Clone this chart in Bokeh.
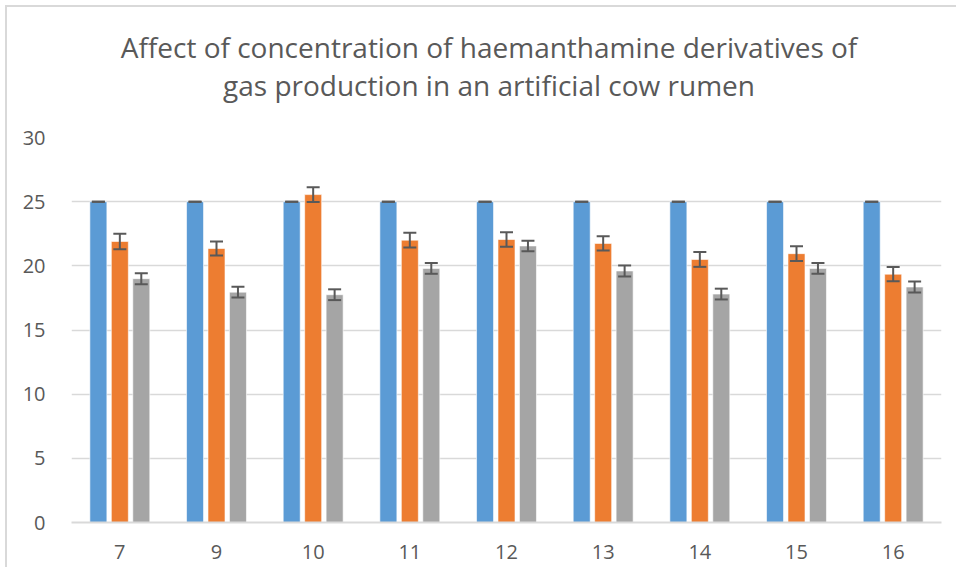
from bokeh.plotting import figure
from bokeh.models import ColumnDataSource, Whisker, TeeHead, Div, FactorRange
from bokeh.layouts import column
from bokeh.transform import dodge
from bokeh.embed import file_html
from bokeh.resources import INLINE

categories = ["7", "9", "10", "11", "12", "13", "14", "15", "16"]
series1 = [25, 25, 25, 25, 25, 25, 25, 25, 25]
series1_err = [0, 0, 0, 0, 0, 0, 0, 0, 0]
series2 = [21.9, 21.35, 25.55, 22.0, 22.05, 21.75, 20.5, 20.95, 19.35]
series2_err = [0.6, 0.55, 0.57, 0.57, 0.57, 0.56, 0.58, 0.57, 0.56]
series3 = [19.0, 17.95, 17.75, 19.8, 21.55, 19.6, 17.8, 19.8, 18.35]
series3_err = [0.43, 0.42, 0.42, 0.42, 0.41, 0.43, 0.42, 0.42, 0.42]
y_ticks = [0, 5, 10, 15, 20, 25, 30]

title_line1 = "Affect of concentration of haemanthamine derivatives of"
title_line2 = "gas production in an artificial cow rumen"

FONT = "Open Sans"
TXT = "#595959"
GRID = "#d9d9d9"

title_html = (
    f'<div style="width:954px;text-align:center;font-family:\'{FONT}\';'
    f'font-size:28px;color:{TXT};line-height:38px;padding-top:16px;white-space:nowrap">'
    f'{title_line1}<br>{title_line2}</div>'
)
div = Div(text=title_html, width=940, height=100, styles={"overflow": "visible"})

p = figure(x_range=FactorRange(*categories, range_padding=0), y_range=(0, 30),
           width=940, height=450, output_backend="svg", toolbar_location=None,
           min_border_left=64, min_border_right=6, min_border_top=20, min_border_bottom=45)
p.title = None
p.outline_line_color = None
p.background_fill_color = "white"
p.border_fill_color = "white"

offsets = [-0.222, 0.0, 0.222]
colors = ["#5b9bd5", "#ed7d31", "#a5a5a5"]
values = [series1, series2, series3]
errs = [series1_err, series2_err, series3_err]

for off, col, vals, er in zip(offsets, colors, values, errs):
    src = ColumnDataSource(dict(
        cat=categories, val=vals,
        upper=[v + e for v, e in zip(vals, er)],
        lower=[v - e for v, e in zip(vals, er)],
    ))
    x = dodge("cat", off, range=p.x_range)
    p.vbar(x=x, top="val", width=0.176, source=src, fill_color=col,
           line_color="white", line_width=1, line_alpha=0.6)
    w = Whisker(source=src, base=x, upper="upper", lower="lower", level="annotation",
                line_color="#595959", line_width=2,
                upper_head=TeeHead(size=13, line_color="#595959", line_width=2),
                lower_head=TeeHead(size=13, line_color="#595959", line_width=2))
    p.add_layout(w)

p.xgrid.grid_line_color = None
p.ygrid.grid_line_color = GRID
p.ygrid.grid_line_width = 1.5
p.yaxis.ticker = y_ticks

for ax in (p.xaxis, p.yaxis):
    ax.major_tick_line_color = None
    ax.minor_tick_line_color = None
    ax.major_label_text_font = FONT
    ax.major_label_text_font_size = "20px"
    ax.major_label_text_color = TXT
p.yaxis.axis_line_color = None
p.xaxis.axis_line_color = GRID
p.xaxis.axis_line_width = 2
p.yaxis.major_label_standoff = 20
p.xaxis.major_label_standoff = 16

layout = column(div, p, spacing=0)
layout.styles = {"border-left": "2px solid #d9d9d9", "border-top": "2px solid #d9d9d9",
                 "margin-left": "5px", "margin-top": "5px", "background": "white"}

open("out.html", "w").write(file_html(layout, INLINE))
